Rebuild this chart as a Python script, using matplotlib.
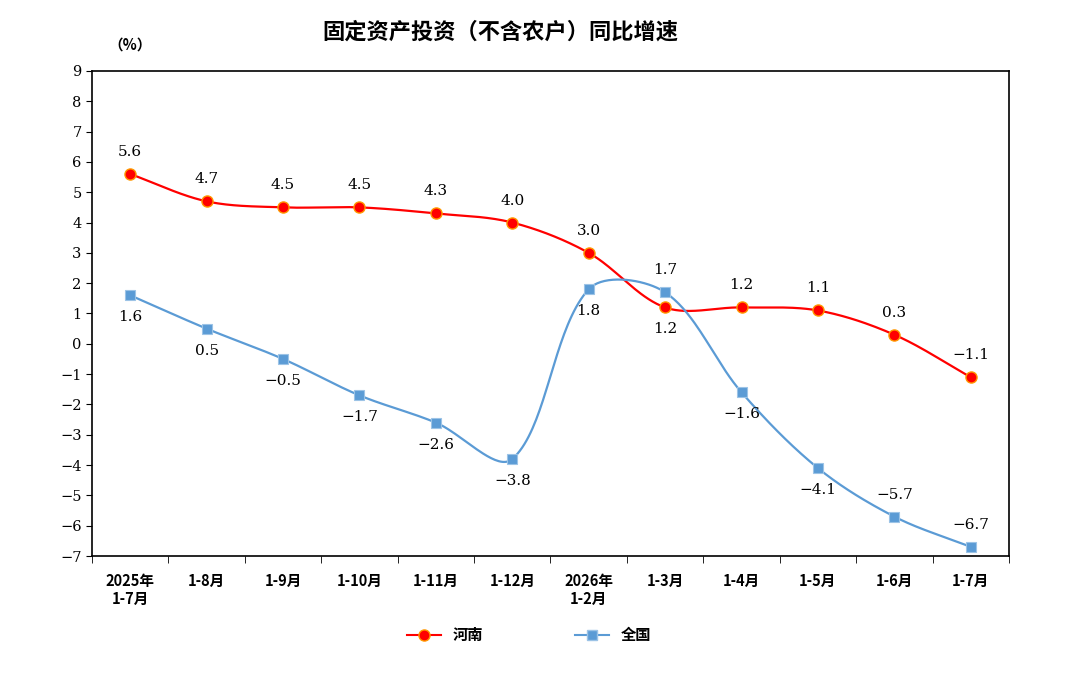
import numpy as np
import matplotlib.pyplot as plt

plt.rcParams['font.family'] = ['Noto Sans CJK SC', 'DejaVu Sans']
plt.rcParams['axes.unicode_minus'] = True

# data
categories = ['2025年\n1-7月', '1-8月', '1-9月', '1-10月', '1-11月', '1-12月',
              '2026年\n1-2月', '1-3月', '1-4月', '1-5月', '1-6月', '1-7月']
henan = [5.6, 4.7, 4.5, 4.5, 4.3, 4.0, 3.0, 1.2, 1.2, 1.1, 0.3, -1.1]
quanguo = [1.6, 0.5, -0.5, -1.7, -2.6, -3.8, 1.8, 1.7, -1.6, -4.1, -5.7, -6.7]
# label above (1) or below (-1) the point
henan_pos = [1, 1, 1, 1, 1, 1, 1, -1, 1, 1, 1, 1]
quanguo_pos = [-1, -1, -1, -1, -1, -1, -1, 1, -1, -1, 1, 1]

red = '#FF0000'
blue = '#5B9BD5'

# px per data unit, used so the smoothing behaves like in screen space
XS, YS = 76.5, 30.3


def smooth(x, y, n=40):
    # excel-like smoothed line: bezier with chord-length weighted tangents
    p = np.column_stack([np.asarray(x, float) * XS, np.asarray(y, float) * YS])
    p = np.vstack([p[0], p, p[-1]])
    d = np.hypot(*np.diff(p, axis=0).T)
    t = np.linspace(0, 1, n)
    out = []
    for i in range(1, len(p) - 2):
        p0, p3 = p[i], p[i + 1]
        d0, d1, d2 = d[i - 1], d[i], d[i + 1]
        w1 = d1 / (d0 + d1) if d0 + d1 > 0 else 0
        w2 = d1 / (d1 + d2) if d1 + d2 > 0 else 0
        c1 = p0 + (p[i + 1] - p[i - 1]) * w1 / 3
        c2 = p3 - (p[i + 2] - p[i]) * w2 / 3
        b = ((1 - t) ** 3)[:, None] * p0 + (3 * (1 - t) ** 2 * t)[:, None] * c1 \
            + (3 * (1 - t) * t ** 2)[:, None] * c2 + (t ** 3)[:, None] * p3
        out.append(b)
    b = np.vstack(out)
    return b[:, 0] / XS, b[:, 1] / YS


def fmt(v):
    return ('%.1f' % v).replace('-', '\u2212')


fig = plt.figure(figsize=(10.8, 6.89), dpi=100)
ax = fig.add_axes([0.0852, 0.193, 0.849, 0.704])
x = np.arange(len(categories))

sx, sy = smooth(x, henan)
ax.plot(sx, sy, color=red, lw=1.6, zorder=3)
ax.plot(x, henan, 'o', ms=8, mfc=red, mec='#FF9900', mew=1, zorder=4)

sx, sy = smooth(x, quanguo)
ax.plot(sx, sy, color=blue, lw=1.6, zorder=3)
ax.plot(x, quanguo, 's', ms=7, mfc=blue, mec='#9CC3E6', mew=0.8, zorder=4)

for i in range(len(x)):
    ax.annotate(fmt(henan[i]), (x[i], henan[i]), xytext=(0, 22 * henan_pos[i]),
                textcoords='offset pixels', ha='center', va='center',
                fontsize=11, family=['DejaVu Serif'])
    ax.annotate(fmt(quanguo[i]), (x[i], quanguo[i]), xytext=(0, 22 * quanguo_pos[i]),
                textcoords='offset pixels', ha='center', va='center',
                fontsize=11, family=['DejaVu Serif'])

ax.set_xlim(-0.5, len(categories) - 0.5)
ax.set_ylim(-7, 9)
ax.set_yticks(range(-7, 10))
ax.set_yticklabels([str(v).replace('-', '\u2212') for v in range(-7, 10)],
                   fontsize=10.5, family=['DejaVu Serif'])
ax.set_xticks(x)
ax.set_xticklabels(categories, fontsize=10.5, fontweight='bold', linespacing=1.2)
ax.set_xticks(np.arange(-0.5, len(categories)), minor=True)
ax.tick_params(axis='x', which='major', length=0, pad=12)
ax.tick_params(axis='x', which='minor', length=5, direction='out')
ax.tick_params(axis='y', length=4, direction='out')
for s in ax.spines.values():
    s.set_linewidth(1.2)

fig.text(0.463, 0.953, '固定资产投资（不含农户）同比增速', ha='center', va='center',
         fontsize=16, fontweight='bold')
fig.text(0.12, 0.935, '（%）', ha='center', va='center', fontsize=10.5, fontweight='bold')

h1, = ax.plot([], [], '-o', color=red, ms=8, mfc=red, mec='#FF9900', lw=1.5)
h2, = ax.plot([], [], '-s', color=blue, ms=7, mfc=blue, mec='#9CC3E6', lw=1.5)
fig.legend([h1, h2], ['河南', '全国'], loc='center', bbox_to_anchor=(0.49, 0.078),
           ncol=2, frameon=False, columnspacing=6, handlelength=2.2,
           prop={'weight': 'bold', 'size': 11})

fig.savefig('out.png')
